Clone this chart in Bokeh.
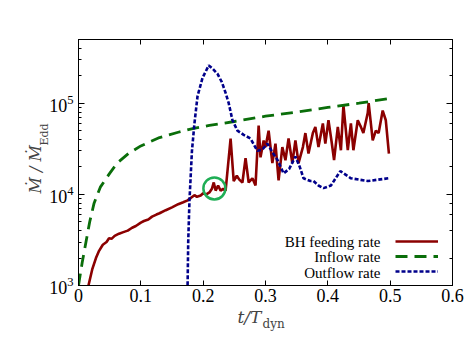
from bokeh.plotting import figure
from bokeh.models import (Range1d, LogAxis, LinearAxis, FixedTicker, LogTicker, Label, Title,
                          Legend, LegendItem, CustomJSTickFormatter)
from bokeh.embed import file_html
from bokeh.resources import INLINE

# ---------------- data ----------------
feed_t = [0.016, 0.022, 0.028, 0.033, 0.039, 0.045, 0.049, 0.053, 0.058, 0.065, 0.072, 0.079,
          0.086, 0.092, 0.100, 0.105, 0.112, 0.118, 0.125, 0.130, 0.140, 0.150, 0.160, 0.168,
          0.175, 0.180, 0.186, 0.190, 0.196, 0.200, 0.205, 0.210, 0.214, 0.217, 0.220, 0.224,
          0.228, 0.232, 0.236, 0.244, 0.249, 0.254, 0.258, 0.263, 0.268, 0.273, 0.279, 0.284,
          0.289, 0.292, 0.297, 0.300, 0.305, 0.311, 0.316, 0.321, 0.327, 0.332, 0.337, 0.343,
          0.348, 0.353, 0.360, 0.364, 0.369, 0.376, 0.380, 0.385, 0.392, 0.396, 0.401, 0.406,
          0.410, 0.416, 0.421, 0.425, 0.432, 0.437, 0.441, 0.448, 0.453, 0.457, 0.464, 0.4655,
          0.472, 0.477, 0.4815, 0.488, 0.493, 0.498]
feed_v = [1000, 1500, 2000, 2400, 2800, 3000, 3300, 3250, 3500, 3700, 3850, 4000,
          4300, 4500, 4900, 5100, 5300, 5700, 6000, 6200, 6700, 7200, 7800, 8200,
          8600, 9100, 9800, 9400, 9700, 10300, 10000, 10500, 11500, 13500, 11000, 12500,
          11000, 11500, 11000, 41000, 14000, 16000, 14500, 13500, 25000, 13500, 15000, 12500,
          57000, 25500, 39000, 33000, 50000, 22000, 36000, 14200, 33000, 23700, 41000, 22000,
          39000, 22000, 33000, 47000, 28000, 47000, 55000, 33000, 60000, 36000, 65000, 38000,
          23700, 55000, 30500, 95000, 30500, 60000, 30500, 65000, 55000, 47000, 78000, 100000,
          39000, 50000, 47000, 83000, 65000, 28000]

in_t = [0.0, 0.006, 0.012, 0.018, 0.025, 0.035, 0.050, 0.062, 0.080, 0.100, 0.130, 0.160,
        0.185, 0.210, 0.250, 0.300, 0.350, 0.400, 0.450, 0.500]
in_v = [1000, 1800, 3000, 5000, 8000, 12000, 17000, 22000, 28000, 34000, 42000, 48000,
        53000, 57000, 63000, 72000, 80000, 90000, 100000, 113000]

out_t = [0.174, 0.175, 0.176, 0.178, 0.182, 0.186, 0.191, 0.199, 0.209, 0.215, 0.223, 0.230,
         0.236, 0.241, 0.247, 0.255, 0.265, 0.276, 0.287, 0.295, 0.303, 0.311, 0.319, 0.329,
         0.338, 0.348, 0.355, 0.361, 0.372, 0.377, 0.385, 0.393, 0.405, 0.420, 0.437, 0.464,
         0.497]
out_v = [300, 1000, 3000, 8500, 30000, 60000, 120000, 190000, 260000, 240000, 210000, 170000,
         130000, 100000, 65000, 50000, 45000, 41000, 30000, 31000, 36000, 29000, 24000, 17000,
         19000, 26000, 20000, 15000, 14000, 14000, 12500, 11700, 12500, 18000, 15000, 14000,
         15000]

circle_t = [0.218]
circle_v = [11600]

x_ticks = [0, 0.1, 0.2, 0.3, 0.4, 0.5, 0.6]
x_tick_labels = ["0", "0.1", "0.2", "0.3", "0.4", "0.5", "0.6"]
legend_labels = ["BH feeding rate", "Inflow rate", "Outflow rate"]

# ---------------- figure ----------------
p = figure(frame_width=374, frame_height=246, y_axis_type="log",
           x_range=Range1d(0, 0.6), y_range=Range1d(1e3, 5e5),
           output_backend="svg", toolbar_location=None,
           min_border_left=78, min_border_right=15, min_border_top=39, min_border_bottom=64)
p.xgrid.visible = False
p.ygrid.visible = False
p.outline_line_color = "black"
p.outline_line_alpha = 1.0
p.background_fill_color = "white"

TICK_FONT = "Liberation Serif"

xa = p.xaxis[0]
xa.ticker = FixedTicker(ticks=x_ticks)
xa.major_label_overrides = {t: s for t, s in zip(x_ticks, x_tick_labels)}
xa.major_tick_in = 5
xa.major_tick_out = 0
xa.minor_tick_line_color = None
xa.major_label_text_font = TICK_FONT
xa.major_label_text_font_size = "18px"
xa.major_label_text_color = "black"
xa.major_label_standoff = 3
xa.axis_line_color = "black"

ya = p.yaxis[0]
ya.major_tick_in = 6
ya.major_tick_out = 0
ya.minor_tick_in = 3
ya.minor_tick_out = 0
ya.major_label_text_font = TICK_FONT
ya.major_label_text_font_size = "18px"
ya.major_label_text_color = "black"
ya.major_label_standoff = 5
ya.axis_line_color = "black"

blank = CustomJSTickFormatter(code="return ''")
ra = LogAxis(ticker=LogTicker(), formatter=blank, major_tick_in=6, major_tick_out=0,
             minor_tick_in=3, minor_tick_out=0, axis_line_color="black")
p.add_layout(ra, "right")
ta = LinearAxis(ticker=FixedTicker(ticks=x_ticks), formatter=blank, major_tick_in=5,
                major_tick_out=0, minor_tick_line_color=None, axis_line_color="black")
p.add_layout(ta, "above")

# ---------------- lines ----------------
r_feed = p.line(feed_t, feed_v, line_color="#8B0000", line_width=2.6)
r_in = p.line(in_t, in_v, line_color="#0A6E0A", line_width=2.8, line_dash="12 7")
r_out = p.line(out_t, out_v, line_color="#00008B", line_width=2.6, line_dash="4 2")
p.scatter(circle_t, circle_v, marker="circle", size=22, fill_color=None,
          line_color="#1FAE55", line_width=2.5)

# ---------------- legend (text right-aligned, sample on the right) ----------------
leg = Legend(items=[LegendItem(label="", renderers=[r]) for r in (r_feed, r_in, r_out)],
             location=(317, 9), glyph_width=43, glyph_height=10, label_height=10,
             label_width=0, label_standoff=0, spacing=5, padding=0, margin=0,
             border_line_alpha=0, background_fill_alpha=0, label_text_font_size="10px")
p.add_layout(leg)
for lab, yy in zip(legend_labels, (44, 29, 13)):
    p.add_layout(Label(x=302, y=yy, x_units="screen", y_units="screen", text=lab,
                       text_font=TICK_FONT, text_font_size="15px", text_align="right",
                       text_baseline="middle", text_color="black"))

# ---------------- axis labels (titles in the side panels) ----------------
p.add_layout(Title(text="Edd", text_font="DejaVu Serif", text_font_size="11px",
                   text_font_style="normal", align="left", offset=140, standoff=-8), "left")
p.add_layout(Title(text="Ṁ / Ṁ", text_font="DejaVu Serif", text_font_style="italic",
                   text_font_size="16px", align="left", offset=92, standoff=-10), "left")
p.add_layout(Title(text="t/T", text_font="DejaVu Serif", text_font_style="italic",
                   text_font_size="17px", align="left", offset=159, standoff=0), "below")
p.add_layout(Title(text="dyn", text_font="DejaVu Serif", text_font_size="12px",
                   text_font_style="normal", align="left", offset=184, standoff=-20,
                   vertical_align="top"), "below")

open("out.html", "w").write(file_html(p, INLINE))
